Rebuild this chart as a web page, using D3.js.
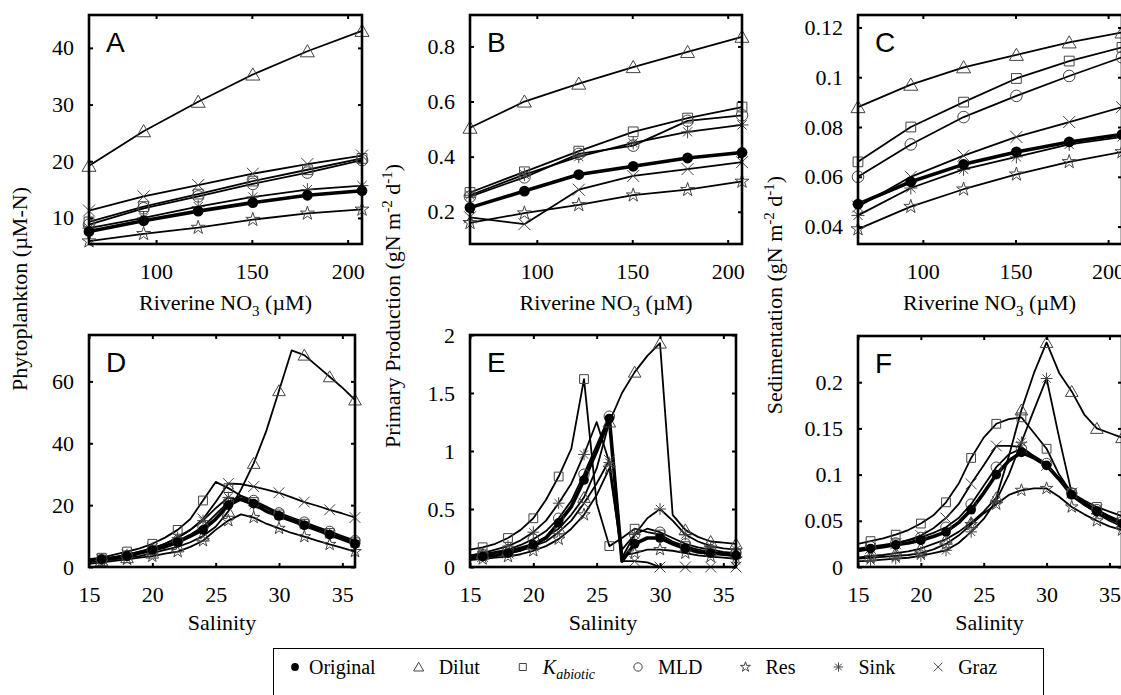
<!DOCTYPE html>
<html>
<head>
<meta charset="utf-8">
<script src="https://cdn.jsdelivr.net/npm/d3@7"></script>
<style>
  body { margin: 0; background: #fff; }
  text { font-family: "Liberation Serif", "Times New Roman", serif; fill: #000; }
</style>
</head>
<body>
<script>
// x values
var nitrate = [65, 93.5, 122, 150.5, 179, 207.5];
var salinity = [15, 16, 17, 18, 19, 20, 21, 22, 23, 24, 25, 26, 27, 28, 29, 30, 31, 32, 33, 34, 35, 36];

// tick values
var nitrateTicks = [100, 150, 200];
var salinityTicks = [15, 20, 25, 30, 35];
var phytoNO3Ticks = [10, 20, 30, 40];
var ppNO3Ticks = [0.2, 0.4, 0.6, 0.8];
var sedNO3Ticks = [0.04, 0.06, 0.08, 0.1, 0.12];
var phytoSalTicks = [0, 20, 40, 60];
var ppSalTicks = [0, 0.5, 1, 1.5, 2];
var sedSalTicks = [0, 0.05, 0.1, 0.15, 0.2];

// A: phytoplankton vs riverine NO3
var phytoNO3_Original = [7.6, 9.5, 11.2, 12.7, 14.0, 14.8];
var phytoNO3_Dilut    = [19.2, 25.3, 30.5, 35.3, 39.4, 43.0];
var phytoNO3_Kabiotic = [9.3, 12.0, 14.2, 16.5, 18.5, 20.5];
var phytoNO3_MLD      = [8.8, 11.7, 13.8, 16.0, 18.0, 20.2];
var phytoNO3_Res      = [5.9, 7.2, 8.3, 9.7, 10.8, 11.5];
var phytoNO3_Sink     = [8.2, 10.0, 12.0, 13.7, 15.0, 15.7];
var phytoNO3_Graz     = [11.3, 13.8, 15.8, 17.8, 19.5, 21.0];

// B: primary production vs riverine NO3
var ppNO3_Original = [0.215, 0.275, 0.335, 0.365, 0.395, 0.415];
var ppNO3_Dilut    = [0.505, 0.60, 0.665, 0.725, 0.78, 0.835];
var ppNO3_Kabiotic = [0.27, 0.345, 0.42, 0.49, 0.54, 0.58];
var ppNO3_MLD      = [0.255, 0.325, 0.41, 0.44, 0.53, 0.55];
var ppNO3_Res      = [0.16, 0.195, 0.225, 0.26, 0.28, 0.31];
var ppNO3_Sink     = [0.26, 0.335, 0.40, 0.45, 0.49, 0.515];
var ppNO3_Graz     = [0.18, 0.155, 0.28, 0.33, 0.355, 0.38];

// C: sedimentation vs riverine NO3
var sedNO3_Original = [0.049, 0.058, 0.065, 0.070, 0.074, 0.077];
var sedNO3_Dilut    = [0.088, 0.097, 0.104, 0.109, 0.114, 0.118];
var sedNO3_Kabiotic = [0.066, 0.080, 0.090, 0.0995, 0.1065, 0.112];
var sedNO3_MLD      = [0.060, 0.073, 0.084, 0.0925, 0.1005, 0.108];
var sedNO3_Res      = [0.039, 0.048, 0.055, 0.061, 0.066, 0.070];
var sedNO3_Sink     = [0.0445, 0.0555, 0.063, 0.068, 0.073, 0.076];
var sedNO3_Graz     = [0.048, 0.060, 0.0685, 0.076, 0.082, 0.088];

// D: phytoplankton vs salinity
var phytoSal_Original = [2, 2.5, 3, 3.5, 4.5, 5.5, 6.5, 8, 10, 12, 15.5, 20, 22, 20.5, 18, 16.5, 15, 13.5, 12, 10.5, 9, 7.5];
var phytoSal_Dilut    = [1.5, 2, 2.5, 3, 3.5, 4.5, 5.5, 6.5, 8, 10, 13, 18, 25, 33.5, 44, 57, 70, 68.5, 65, 61.5, 58, 54];
var phytoSal_Kabiotic = [2.5, 3, 4, 5, 6, 7.5, 9.5, 12, 15.5, 21.5, 27.5, 25.5, 23, 21, 19, 17, 15.5, 14, 12.5, 11, 9.5, 8];
var phytoSal_MLD      = [2, 2.5, 3, 3.7, 4.5, 5.5, 7, 8.5, 10.5, 13, 17, 21, 23, 21.5, 19.5, 17.5, 16, 14.5, 13, 11.5, 10, 8.5];
var phytoSal_Res      = [1, 1.5, 2, 2.5, 3, 3.5, 4.3, 5, 6.5, 8.5, 12, 15, 17, 16, 14, 12.5, 11, 9.8, 8.5, 7.3, 6.2, 5];
var phytoSal_Sink     = [2, 2.5, 3.2, 4, 5, 6, 7.5, 9.5, 12, 15, 19, 22.5, 21.5, 20, 18, 16.5, 15, 13.5, 12, 10.5, 9, 7.5];
var phytoSal_Graz     = [2, 2.5, 3, 4, 5, 6, 7.5, 9.5, 12, 15.5, 21, 27, 26.8, 26, 25, 24, 22.5, 21, 19.8, 18.5, 17.3, 16];

// E: primary production vs salinity
var ppSal_Original = [0.08, 0.09, 0.1, 0.12, 0.15, 0.19, 0.25, 0.38, 0.52, 0.75, 1.0, 1.28, 0.05, 0.2, 0.25, 0.25, 0.2, 0.16, 0.13, 0.12, 0.11, 0.1];
var ppSal_Dilut    = [0.1, 0.11, 0.12, 0.14, 0.17, 0.2, 0.26, 0.33, 0.45, 0.6, 0.85, 1.25, 1.5, 1.68, 1.82, 1.93, 0.45, 0.32, 0.26, 0.22, 0.21, 0.2];
var ppSal_Kabiotic = [0.15, 0.17, 0.2, 0.25, 0.32, 0.42, 0.58, 0.78, 1.02, 1.62, 0.55, 0.18, 0.25, 0.33, 0.3, 0.28, 0.22, 0.18, 0.15, 0.13, 0.12, 0.11];
var ppSal_MLD      = [0.1, 0.11, 0.13, 0.15, 0.19, 0.24, 0.31, 0.42, 0.57, 0.8, 1.05, 1.3, 0.08, 0.28, 0.33, 0.3, 0.25, 0.2, 0.17, 0.15, 0.13, 0.12];
var ppSal_Res      = [0.06, 0.07, 0.08, 0.09, 0.11, 0.14, 0.18, 0.24, 0.33, 0.45, 0.62, 0.85, 0.1, 0.12, 0.15, 0.15, 0.14, 0.12, 0.1, 0.09, 0.08, 0.07];
var ppSal_Sink     = [0.1, 0.12, 0.15, 0.18, 0.23, 0.3, 0.4, 0.55, 0.72, 0.97, 1.25, 0.9, 0.15, 0.28, 0.42, 0.5, 0.4, 0.28, 0.22, 0.18, 0.16, 0.15];
var ppSal_Graz     = [0.08, 0.09, 0.1, 0.12, 0.14, 0.18, 0.22, 0.3, 0.4, 0.55, 0.72, 0.92, 0.05, 0.05, 0.04, 0, 0, 0, 0, 0, 0, 0];

// F: sedimentation vs salinity
var sedSal_Original = [0.018, 0.02, 0.022, 0.024, 0.026, 0.029, 0.033, 0.038, 0.048, 0.062, 0.08, 0.1, 0.115, 0.124, 0.118, 0.11, 0.095, 0.078, 0.068, 0.06, 0.053, 0.047];
var sedSal_Dilut    = [0.01, 0.012, 0.013, 0.015, 0.017, 0.02, 0.025, 0.03, 0.038, 0.048, 0.06, 0.075, 0.12, 0.17, 0.21, 0.243, 0.21, 0.19, 0.165, 0.15, 0.145, 0.14];
var sedSal_Kabiotic = [0.025, 0.028, 0.031, 0.035, 0.04, 0.047, 0.056, 0.07, 0.09, 0.118, 0.14, 0.155, 0.16, 0.162, 0.145, 0.128, 0.1, 0.08, 0.072, 0.065, 0.06, 0.055];
var sedSal_MLD      = [0.02, 0.022, 0.024, 0.026, 0.029, 0.032, 0.037, 0.043, 0.053, 0.068, 0.088, 0.108, 0.122, 0.128, 0.12, 0.112, 0.096, 0.08, 0.07, 0.062, 0.055, 0.049];
var sedSal_Res      = [0.009, 0.01, 0.011, 0.012, 0.013, 0.015, 0.019, 0.025, 0.034, 0.046, 0.058, 0.068, 0.078, 0.083, 0.085, 0.085, 0.076, 0.065, 0.057, 0.05, 0.044, 0.04];
var sedSal_Sink     = [0.006, 0.007, 0.008, 0.009, 0.01, 0.012, 0.015, 0.018, 0.026, 0.038, 0.052, 0.072, 0.1, 0.135, 0.17, 0.204, 0.14, 0.08, 0.068, 0.058, 0.05, 0.044];
var sedSal_Graz     = [0.018, 0.02, 0.022, 0.025, 0.029, 0.034, 0.042, 0.053, 0.068, 0.09, 0.11, 0.131, 0.131, 0.13, 0.12, 0.11, 0.095, 0.08, 0.07, 0.062, 0.055, 0.048];

var seriesNames = ["Dilut", "Kabiotic", "MLD", "Res", "Sink", "Graz", "Original"];

var panels = [
  {tag: "A", left: 89, right: 362, top: 15, bottom: 244, xs: nitrate, xdom: [65, 207.5], ydom: [5.4, 45.8],
   xt: nitrateTicks, yt: phytoNO3Ticks, every: false,
   data: [phytoNO3_Dilut, phytoNO3_Kabiotic, phytoNO3_MLD, phytoNO3_Res, phytoNO3_Sink, phytoNO3_Graz, phytoNO3_Original]},
  {tag: "B", left: 470, right: 742, top: 15, bottom: 244, xs: nitrate, xdom: [65, 207.5], ydom: [0.083, 0.914],
   xt: nitrateTicks, yt: ppNO3Ticks, every: false,
   data: [ppNO3_Dilut, ppNO3_Kabiotic, ppNO3_MLD, ppNO3_Res, ppNO3_Sink, ppNO3_Graz, ppNO3_Original]},
  {tag: "C", left: 858, right: 1122, top: 15, bottom: 244, xs: nitrate, xdom: [65, 207.5], ydom: [0.033, 0.125],
   xt: nitrateTicks, yt: sedNO3Ticks, every: false,
   data: [sedNO3_Dilut, sedNO3_Kabiotic, sedNO3_MLD, sedNO3_Res, sedNO3_Sink, sedNO3_Graz, sedNO3_Original]},
  {tag: "D", left: 89, right: 355, top: 335, bottom: 567, xs: salinity, xdom: [15, 36], ydom: [0, 75],
   xt: salinityTicks, yt: phytoSalTicks, every: true,
   data: [phytoSal_Dilut, phytoSal_Kabiotic, phytoSal_MLD, phytoSal_Res, phytoSal_Sink, phytoSal_Graz, phytoSal_Original]},
  {tag: "E", left: 470, right: 736, top: 335, bottom: 567, xs: salinity, xdom: [15, 36], ydom: [0, 2],
   xt: salinityTicks, yt: ppSalTicks, every: true,
   data: [ppSal_Dilut, ppSal_Kabiotic, ppSal_MLD, ppSal_Res, ppSal_Sink, ppSal_Graz, ppSal_Original]},
  {tag: "F", left: 858, right: 1122, top: 336, bottom: 567, xs: salinity, xdom: [15, 36], ydom: [0, 0.25],
   xt: salinityTicks, yt: sedSalTicks, every: true,
   data: [sedSal_Dilut, sedSal_Kabiotic, sedSal_MLD, sedSal_Res, sedSal_Sink, sedSal_Graz, sedSal_Original]}
];

var svg = d3.select("body").append("svg")
  .attr("width", 1121)
  .attr("height", 695);

var markerColor = "#444";

// draw one marker of a series at (cx, cy)
function drawMarker(g, name, cx, cy, scale) {
  var s = scale || 1;
  var t = "translate(" + cx + "," + cy + ")";
  if (name === "Original") {
    g.append("circle").attr("cx", cx).attr("cy", cy).attr("r", 5.4 * s).attr("fill", "#000");
  } else if (name === "Dilut") {
    g.append("path").attr("transform", t + " translate(0," + (1.5 * s) + ")")
      .attr("d", d3.symbol(d3.symbolTriangle, 85 * s * s)())
      .attr("fill", "none").attr("stroke", markerColor).attr("stroke-width", 1);
  } else if (name === "Kabiotic") {
    g.append("path").attr("transform", t)
      .attr("d", d3.symbol(d3.symbolSquare, 95 * s * s)())
      .attr("fill", "none").attr("stroke", markerColor).attr("stroke-width", 1);
  } else if (name === "MLD") {
    g.append("circle").attr("cx", cx).attr("cy", cy).attr("r", 5.8 * s)
      .attr("fill", "none").attr("stroke", markerColor).attr("stroke-width", 1);
  } else if (name === "Res") {
    g.append("path").attr("transform", t)
      .attr("d", d3.symbol(d3.symbolStar, 60 * s * s)())
      .attr("fill", "none").attr("stroke", markerColor).attr("stroke-width", 1);
  } else if (name === "Sink") {
    var r = 6.5 * s, p = "";
    [0, 45, 90, 135].forEach(function(a) {
      var rad = a * Math.PI / 180, dx = r * Math.cos(rad), dy = r * Math.sin(rad);
      p += "M" + (-dx) + "," + (-dy) + "L" + dx + "," + dy;
    });
    g.append("path").attr("transform", t).attr("d", p)
      .attr("fill", "none").attr("stroke", markerColor).attr("stroke-width", 1);
  } else if (name === "Graz") {
    var q = 6 * s;
    g.append("path").attr("transform", t)
      .attr("d", "M" + (-q) + "," + (-q) + "L" + q + "," + q + "M" + (-q) + "," + q + "L" + q + "," + (-q))
      .attr("fill", "none").attr("stroke", markerColor).attr("stroke-width", 1);
  }
}

function fmt(d) { return String(d); }

panels.forEach(function(p) {
  var x = d3.scaleLinear().domain(p.xdom).range([p.left, p.right]);
  var y = d3.scaleLinear().domain(p.ydom).range([p.bottom, p.top]);
  var g = svg.append("g");

  var line = d3.line()
    .x(function(d, i) { return x(p.xs[i]); })
    .y(function(d) { return y(d); });

  // lines first, original on top
  p.data.forEach(function(vals, k) {
    var name = seriesNames[k];
    g.append("path")
      .datum(vals)
      .attr("d", line)
      .attr("fill", "none")
      .attr("stroke", "#000")
      .attr("stroke-width", name === "Original" ? 3.6 : 1.8)
      .attr("stroke-linejoin", "round");
  });

  // markers
  p.data.forEach(function(vals, k) {
    var name = seriesNames[k];
    vals.forEach(function(v, i) {
      if (p.every && p.xs[i] % 2 !== 0) return;
      drawMarker(g, name, x(p.xs[i]), y(v), p.every ? 0.9 : 1);
    });
  });

  // axes with inward ticks
  var ax = g.append("g").attr("font-size", 22);
  ax.append("g").attr("transform", "translate(" + p.left + ",0)")
    .call(d3.axisLeft(y).tickValues(p.yt).tickFormat(fmt).tickSizeInner(-4).tickSizeOuter(0).tickPadding(15));
  ax.append("g").attr("transform", "translate(" + p.right + ",0)")
    .call(d3.axisRight(y).tickValues(p.yt).tickFormat("").tickSizeInner(-4).tickSizeOuter(0));
  ax.append("g").attr("transform", "translate(0," + p.bottom + ")")
    .call(d3.axisBottom(x).tickValues(p.xt).tickFormat(fmt).tickSizeInner(-4).tickSizeOuter(0).tickPadding(19));
  ax.append("g").attr("transform", "translate(0," + p.top + ")")
    .call(d3.axisTop(x).tickValues(p.xt).tickFormat("").tickSizeInner(-4).tickSizeOuter(0));
  ax.selectAll(".domain").remove();
  ax.selectAll(".tick line").attr("stroke", "#000").attr("stroke-width", 2);
  ax.selectAll("text").attr("font-size", 22);

  // frame
  g.append("rect")
    .attr("x", p.left).attr("y", p.top)
    .attr("width", p.right - p.left).attr("height", p.bottom - p.top)
    .attr("fill", "none").attr("stroke", "#000").attr("stroke-width", 2.6);

  // panel letter
  g.append("text")
    .attr("x", p.left + 17).attr("y", p.top + 37)
    .style("font-family", "'Liberation Sans', Arial, sans-serif")
    .attr("font-size", 28)
    .text(p.tag);

  // x axis title
  var xt = g.append("text")
    .attr("x", (p.left + Math.min(p.right, 1121)) / 2)
    .attr("y", p.bottom + (p.every ? 63 : 66))
    .attr("text-anchor", "middle")
    .attr("font-size", 22);
  if (p.every) {
    xt.text("Salinity");
  } else {
    xt.append("tspan").text("Riverine NO");
    xt.append("tspan").attr("font-size", 15).attr("dy", 6).text("3");
    xt.append("tspan").attr("dy", -6).text(" (\u00B5M)");
  }
});

// y axis titles
function unitTitle(xpos, ypos, label) {
  var t = svg.append("text")
    .attr("transform", "translate(" + xpos + "," + ypos + ") rotate(-90)")
    .attr("text-anchor", "middle")
    .attr("font-size", 22);
  t.append("tspan").text(label + " (gN m");
  t.append("tspan").attr("font-size", 15).attr("dy", -8).text("-2");
  t.append("tspan").attr("dy", 8).text(" d");
  t.append("tspan").attr("font-size", 15).attr("dy", -8).text("-1");
  t.append("tspan").attr("dy", 8).text(")");
}

svg.append("text")
  .attr("transform", "translate(27,289) rotate(-90)")
  .attr("text-anchor", "middle")
  .attr("font-size", 22)
  .text("Phytoplankton (\u00B5M-N)");
unitTitle(400, 306, "Primary Production");
unitTitle(782, 295, "Sedimentation");

// legend
var legend = svg.append("g");
legend.append("rect")
  .attr("x", 273.5).attr("y", 648.5)
  .attr("width", 770).attr("height", 60)
  .attr("fill", "#fff").attr("stroke", "#000").attr("stroke-width", 1);

var legendOrder = ["Original", "Dilut", "Kabiotic", "MLD", "Res", "Sink", "Graz"];
var lx = 295, ly = 667;
legendOrder.forEach(function(name) {
  drawMarker(legend, name, lx, ly, 0.72);
  var off = name === "Original" ? 14 : 20;
  var t = legend.append("text")
    .attr("x", lx + off).attr("y", ly + 7)
    .attr("font-size", 20);
  if (name === "Kabiotic") {
    t.append("tspan").style("font-style", "italic").text("K");
    t.append("tspan").style("font-style", "italic").attr("font-size", 14).attr("dy", 5).text("abiotic");
  } else {
    t.text(name);
  }
  lx = lx + off + t.node().getComputedTextLength() + 43;
});
</script>
</body>
</html>
